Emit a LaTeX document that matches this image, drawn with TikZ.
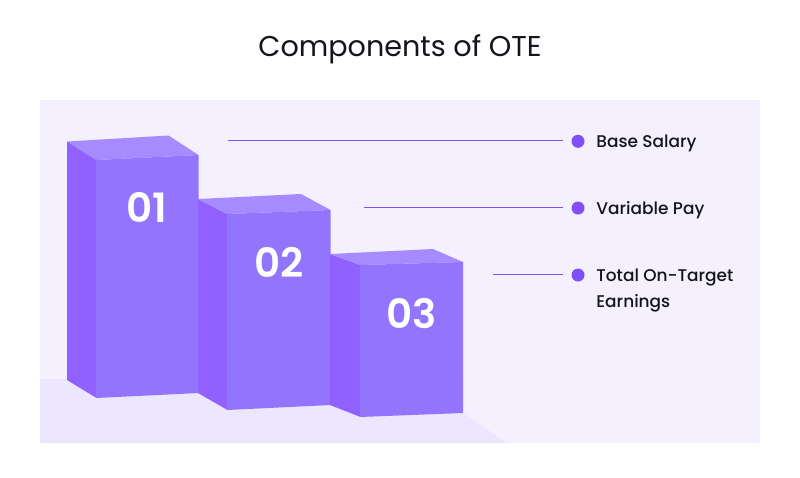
\documentclass[tikz,border=0pt]{standalone}
\usepackage{fontspec}
\setmainfont{Poppins}
\newfontfamily\itemfont{Poppins Medium}
\newfontfamily\numfont{Poppins SemiBold}
\usepackage{tikz}
\definecolor{panelbg}{HTML}{F4F0FE}
\definecolor{floorbg}{HTML}{ECE6FE}
\definecolor{barfront}{HTML}{9275FC}
\definecolor{barside}{HTML}{9061FF}
\definecolor{bartop}{HTML}{A58BFF}
\definecolor{leadcol}{HTML}{7F50F7}
\definecolor{inkcol}{HTML}{15131C}
\tikzset{
	lead/.style={leadcol,line width=0.6pt},
	bullet/.style={circle,fill=leadcol,minimum size=7.4pt,inner sep=0pt,outer sep=0pt},
	item/.style={inkcol,anchor=base west,inner sep=0pt,font=\fontsize{9.65}{14}\selectfont\itemfont},
	barnum/.style={white,font=\fontsize{23}{26}\selectfont\numfont}
}
\begin{document}
\begin{tikzpicture}[x=0.02cm,y=-0.02cm]
		\useasboundingbox (0,0) rectangle (800,477);
		\fill[white] (0,0) rectangle (800,477);
		\node[inkcol,font=\fontsize{16.3}{20}\selectfont] (title) at (400,49.5) {Components of OTE};
		
		\fill[panelbg] (40,100) rectangle (760,443);
		\fill[floorbg] (40,379)--(463,379)--(463,413)--(507,443)--(40,443)--cycle;
		
		% first block
		\fill[barside] (67,141.5)--(96.5,160)--(96.5,398)--(67,380)--cycle;
		\fill[bartop] (67,141.5)--(168.5,135.5)--(198.5,155)--(96,160)--cycle;
		\fill[barfront] (96,160)--(198.5,155)--(198.5,393)--(96,398)--cycle;
		\node[barnum] (n1) at (147,207) {01};
		
		% second block
		\fill[barside] (198,199)--(227.5,214)--(227.5,410)--(198,393)--cycle;
		\fill[bartop] (198.5,199)--(301,194)--(330.5,210)--(227,214)--cycle;
		\fill[barfront] (227,214)--(330.5,210)--(330.5,405)--(227,410)--cycle;
		\node[barnum] (n2) at (279,262) {02};
		
		% third block
		\fill[barside] (330,254)--(360.5,265)--(360.5,417)--(330,405)--cycle;
		\fill[bartop] (330.5,254)--(433,249)--(463,262)--(360,265)--cycle;
		\fill[barfront] (360,265)--(463,262)--(463,413)--(360,417)--cycle;
		\node[barnum] (n3) at (411.5,314) {03};
		
		\coordinate (s1) at (228,140.5);
		\coordinate (s2) at (364,207.5);
		\coordinate (s3) at (493,274.5);
		\node[bullet] (d1) at (578,141.3) {};
		\node[bullet] (d2) at (578,208) {};
		\node[bullet] (d3) at (578,275) {};
		\coordinate (e1) at (s1 -| d1);
		\coordinate (e2) at (s2 -| d2);
		\coordinate (e3) at (s3 -| d3);
		\draw[lead,shorten >=14\pgflinewidth] (s1)--(e1);
		\draw[lead,shorten >=14\pgflinewidth] (s2)--(e2);
		\draw[lead,shorten >=14\pgflinewidth] (s3)--(e3);
		
		\node[item] (t1) at (596,147.3) {Base Salary};
		\node[item] (t2) at (596,214.3) {Variable Pay};
		\node[item] (t3) at (596,281.3) {Total On-Target};
		\node[item] (t4) at (596,307.7) {Earnings};
	\end{tikzpicture}
\end{document}
